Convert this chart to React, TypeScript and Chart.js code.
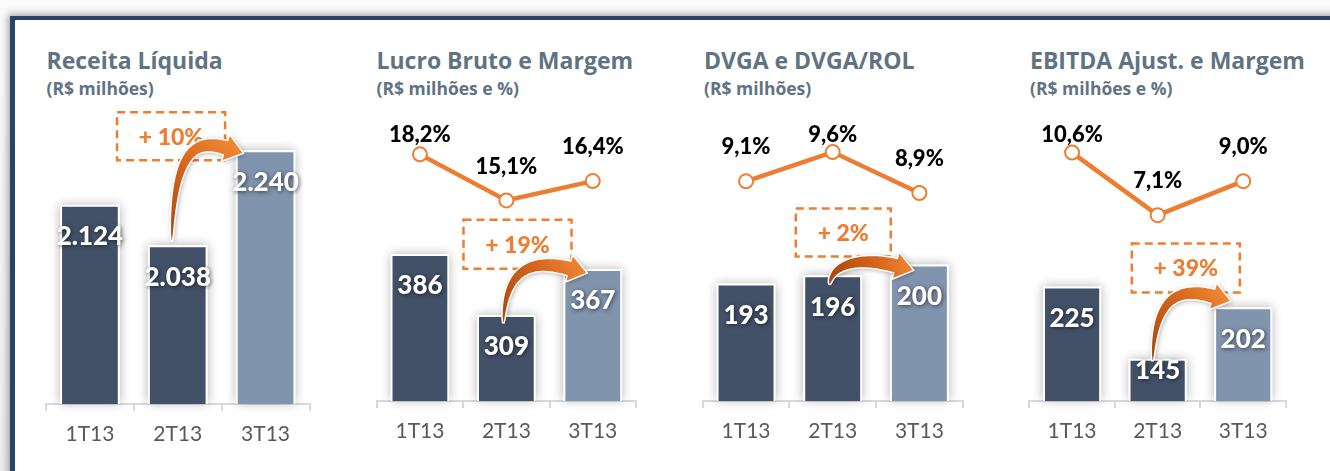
import React, { useEffect, useRef } from 'react';
import { Chart, registerables } from 'chart.js';

Chart.register(...registerables);

// ---------- data ----------
const categories = ['1T13', '2T13', '3T13'];
const receitaValues = [2124, 2038, 2240];
const lucroValues = [386, 309, 367];
const lucroMargin = [18.2, 15.1, 16.4];
const dvgaValues = [193, 196, 200];
const dvgaRatio = [9.1, 9.6, 8.9];
const ebitdaValues = [225, 145, 202];
const ebitdaMargin = [10.6, 7.1, 9.0];
const growthLabels = ['+ 10%', '+ 19%', '+ 2%', '+ 39%'];
const titles = ['Receita Líquida', 'Lucro Bruto e Margem', 'DVGA e DVGA/ROL', 'EBITDA Ajust. e Margem'];
const subtitles = ['(R$ milhões)', '(R$ milhões e %)', '(R$ milhões)', '(R$ milhões e %)'];

// ---------- styles ----------
const ORANGE = '#ED7D31';
const DARK_BAR = '#435168';
const LIGHT_BAR = '#8194ad';
const barColors = [DARK_BAR, DARK_BAR, LIGHT_BAR];
const TITLE_COLOR = '#5f7383';
const NUM_FONT = 'Lato, "Open Sans", sans-serif';
const TITLE_FONT = '"Open Sans", Lato, sans-serif';
const HEAVY = 900;

const AREA_TOP = 100;
const CANVAS_TOP = 95;
const CANVAS_BOTTOM = 470;
const AXIS_H = 50;

type Panel = {
  title: string;
  subtitle: string;
  titleLeft: number;
  bars: number[];
  line: number[] | null;
  yMin: number;
  yMax: number;
  y1Min: number;
  y1Max: number;
  left: number;
  right: number;
  bottom: number;
  growth: { text: string; cx: number; cy: number; w: number; h: number };
  arrow: { tailDx: number; tailDy: number; tipDx: number; tipDy: number };
};

const panels: Panel[] = [
  {
    title: titles[0], subtitle: subtitles[0], titleLeft: 46.5,
    bars: receitaValues, line: null,
    yMin: 1700, yMax: 2347, y1Min: 0, y1Max: 1,
    left: 46, right: 309.5, bottom: 404,
    growth: { text: growthLabels[0], cx: 0.924, cy: 2270, w: 108, h: 48 },
    arrow: { tailDx: -6, tailDy: -4, tipDx: 8, tipDy: 3 },
  },
  {
    title: titles[1], subtitle: subtitles[1], titleLeft: 376.5,
    bars: lucroValues, line: lucroMargin,
    yMin: 200, yMax: 576, y1Min: 1.6, y1Max: 21.59,
    left: 376.7, right: 636, bottom: 401,
    growth: { text: growthLabels[1], cx: 1.129, cy: 398.5, w: 108, h: 49 },
    arrow: { tailDx: -3, tailDy: 8, tipDx: 24, tipDy: 4 },
  },
  {
    title: titles[2], subtitle: subtitles[2], titleLeft: 704,
    bars: dvgaValues, line: dvgaRatio,
    yMin: 150, yMax: 258.7, y1Min: 5.339, y1Max: 10.423,
    left: 702.7, right: 962.7, bottom: 401,
    growth: { text: growthLabels[2], cx: 1.122, cy: 211.7, w: 95, h: 48 },
    arrow: { tailDx: -3, tailDy: 9, tipDx: 24, tipDy: 6 },
  },
  {
    title: titles[3], subtitle: subtitles[3], titleLeft: 1030,
    bars: ebitdaValues, line: ebitdaMargin,
    yMin: 98.4, yMax: 426.6, y1Min: -3.3, y1Max: 13.32,
    left: 1029.3, right: 1286, bottom: 401,
    growth: { text: growthLabels[3], cx: 1.329, cy: 245.3, w: 108, h: 49 },
    arrow: { tailDx: -5, tailDy: 2, tipDx: 17, tipDy: -6 },
  },
];

function fmtThousands(n: number): string {
  if (n >= 1000) {
    return `${Math.floor(n / 1000)}.${String(n % 1000).padStart(3, '0')}`;
  }
  return String(n);
}
function fmtPct(v: number): string {
  return v.toFixed(1).replace('.', ',') + '%';
}

function drawArrow(ctx: CanvasRenderingContext2D, tail: { x: number; y: number }, tip: { x: number; y: number }) {
  const dx = tip.x - tail.x;
  const c1 = { x: tail.x + 2, y: tip.y - 6 };
  const c2 = { x: tail.x + 0.35 * dx, y: tip.y - 14 };
  const headLen = 19;
  const headHalf = 14;
  const bodyHalf = 7.5;
  let ux = tip.x - c2.x;
  let uy = tip.y - c2.y;
  const ul = Math.hypot(ux, uy) || 1;
  ux /= ul; uy /= ul;
  const B = { x: tip.x - ux * headLen, y: tip.y - uy * headLen };
  const bez = (t: number) => {
    const m = 1 - t;
    return {
      x: m * m * m * tail.x + 3 * m * m * t * c1.x + 3 * m * t * t * c2.x + t * t * t * B.x,
      y: m * m * m * tail.y + 3 * m * m * t * c1.y + 3 * m * t * t * c2.y + t * t * t * B.y,
    };
  };
  const der = (t: number) => {
    const m = 1 - t;
    return {
      x: 3 * m * m * (c1.x - tail.x) + 6 * m * t * (c2.x - c1.x) + 3 * t * t * (B.x - c2.x),
      y: 3 * m * m * (c1.y - tail.y) + 6 * m * t * (c2.y - c1.y) + 3 * t * t * (B.y - c2.y),
    };
  };
  const N = 40;
  const leftPts: { x: number; y: number }[] = [];
  const rightPts: { x: number; y: number }[] = [];
  for (let i = 0; i <= N; i++) {
    const t = i / N;
    const p = bez(t);
    const d = der(t);
    const dl = Math.hypot(d.x, d.y) || 1;
    const nx = -d.y / dl;
    const ny = d.x / dl;
    const w = 0.8 + (bodyHalf - 0.8) * Math.pow(t, 0.6);
    leftPts.push({ x: p.x + nx * w, y: p.y + ny * w });
    rightPts.push({ x: p.x - nx * w, y: p.y - ny * w });
  }
  const nx = -uy;
  const ny = ux;
  ctx.save();
  ctx.beginPath();
  ctx.moveTo(leftPts[0].x, leftPts[0].y);
  for (const p of leftPts) ctx.lineTo(p.x, p.y);
  ctx.lineTo(B.x + nx * headHalf, B.y + ny * headHalf);
  ctx.lineTo(tip.x, tip.y);
  ctx.lineTo(B.x - nx * headHalf, B.y - ny * headHalf);
  for (let i = rightPts.length - 1; i >= 0; i--) ctx.lineTo(rightPts[i].x, rightPts[i].y);
  ctx.closePath();
  const g = ctx.createLinearGradient(tail.x, tail.y, tip.x, tip.y);
  g.addColorStop(0, '#a9480f');
  g.addColorStop(0.55, '#d2641b');
  g.addColorStop(1, '#f08634');
  ctx.shadowColor = 'rgba(0,0,0,0.35)';
  ctx.shadowBlur = 5;
  ctx.shadowOffsetX = 1;
  ctx.shadowOffsetY = 1;
  ctx.fillStyle = g;
  ctx.fill();
  ctx.shadowColor = 'transparent';
  ctx.strokeStyle = '#ffffff';
  ctx.lineWidth = 1.5;
  ctx.lineJoin = 'round';
  ctx.stroke();
  ctx.restore();
}

function PanelChart({ p }: { p: Panel }) {
  const ref = useRef<HTMLCanvasElement>(null);
  const canvasLeft = Math.floor(p.left - 16);
  const canvasWidth = Math.ceil(p.right + 24 - canvasLeft);
  const canvasHeight = CANVAS_BOTTOM - CANVAS_TOP;

  useEffect(() => {
    if (!ref.current) return;
    const decor = {
      id: 'decor',
      beforeDatasetsDraw(chart: any) {
        const ctx: CanvasRenderingContext2D = chart.ctx;
        const area = chart.chartArea;
        const meta = chart.getDatasetMeta(0);
        ctx.save();
        meta.data.forEach((el: any) => {
          const { x, y, width } = el.getProps(['x', 'y', 'width'], true);
          ctx.shadowColor = 'rgba(0,0,0,0.3)';
          ctx.shadowBlur = 10;
          ctx.fillStyle = '#ffffff';
          ctx.fillRect(x - width / 2, y, width, area.bottom - y - 1);
        });
        ctx.restore();
      },
      afterDatasetsDraw(chart: any) {
        const ctx: CanvasRenderingContext2D = chart.ctx;
        const xs = chart.scales.x;
        const ys = chart.scales.y;
        const area = chart.chartArea;
        const barMeta = chart.getDatasetMeta(0);

        // growth box
        const gcx = xs.getPixelForValue(p.growth.cx);
        const gcy = ys.getPixelForValue(p.growth.cy);
        ctx.save();
        ctx.strokeStyle = ORANGE;
        ctx.lineWidth = 2.5;
        ctx.setLineDash([8, 5]);
        ctx.strokeRect(gcx - p.growth.w / 2, gcy - p.growth.h / 2, p.growth.w, p.growth.h);
        ctx.setLineDash([]);
        ctx.fillStyle = ORANGE;
        ctx.font = `${HEAVY} 23px ${NUM_FONT}`;
        ctx.textAlign = 'center';
        ctx.textBaseline = 'middle';
        ctx.fillText(p.growth.text, gcx, gcy + 1);
        ctx.restore();

        // arrow
        const b1 = barMeta.data[1].getProps(['x', 'y', 'width'], true);
        const b2 = barMeta.data[2].getProps(['x', 'y', 'width'], true);
        drawArrow(
          ctx,
          { x: b1.x + p.arrow.tailDx, y: b1.y + p.arrow.tailDy },
          { x: b2.x - b2.width / 2 + p.arrow.tipDx, y: b2.y + p.arrow.tipDy },
        );

        // bar value labels
        ctx.save();
        ctx.font = `${HEAVY} 26px ${NUM_FONT}`;
        ctx.textAlign = 'center';
        ctx.textBaseline = 'middle';
        ctx.fillStyle = '#ffffff';
        ctx.shadowColor = 'rgba(0,0,0,0.6)';
        ctx.shadowBlur = 4;
        ctx.shadowOffsetX = 1;
        ctx.shadowOffsetY = 1;
        barMeta.data.forEach((el: any, i: number) => {
          const { x, y } = el.getProps(['x', 'y'], true);
          const ly = Math.min(y + 32, area.bottom - 30);
          ctx.fillText(fmtThousands(p.bars[i]), x, ly);
        });
        ctx.restore();

        // line labels
        if (p.line) {
          const lineMeta = chart.getDatasetMeta(1);
          ctx.save();
          ctx.font = `${HEAVY} 22px ${NUM_FONT}`;
          ctx.textAlign = 'center';
          ctx.textBaseline = 'middle';
          ctx.fillStyle = '#000000';
          lineMeta.data.forEach((pt: any, i: number) => {
            const { x, y } = pt.getProps(['x', 'y'], true);
            const ly = Math.max(y - 34, area.top + 31);
            ctx.fillText(fmtPct(p.line![i]), x, ly);
          });
          ctx.restore();
        }
      },
    };

    const datasets: any[] = [
      {
        type: 'bar',
        data: p.bars,
        backgroundColor: barColors,
        borderColor: '#ffffff',
        borderWidth: 2,
        borderSkipped: 'start',
        barPercentage: 0.68,
        categoryPercentage: 1,
        yAxisID: 'y',
        order: 1,
      },
    ];
    if (p.line) {
      datasets.push({
        type: 'line',
        data: p.line,
        yAxisID: 'y1',
        borderColor: ORANGE,
        borderWidth: 4.5,
        pointRadius: 7,
        pointBorderWidth: 2,
        pointBackgroundColor: '#ffffff',
        pointBorderColor: ORANGE,
        tension: 0,
        order: 0,
        clip: false,
      });
    }

    const chart = new Chart(ref.current, {
      type: 'bar',
      data: { labels: categories, datasets },
      options: {
        responsive: false,
        animation: false,
        events: [],
        layout: {
          padding: {
            left: p.left - canvasLeft,
            right: canvasLeft + canvasWidth - p.right,
            top: AREA_TOP - CANVAS_TOP,
            bottom: CANVAS_BOTTOM - AXIS_H - p.bottom,
          },
        },
        plugins: {
          legend: { display: false },
          tooltip: { enabled: false },
        },
        scales: {
          x: {
            offset: true,
            grid: {
              display: true,
              offset: true,
              drawOnChartArea: false,
              drawTicks: true,
              tickLength: 7,
              color: '#d9d9d9',
              lineWidth: 2,
            },
            border: { display: true, color: '#d9d9d9', width: 2 },
            ticks: {
              color: '#595959',
              font: { family: NUM_FONT, size: 21 },
              padding: 11,
              maxRotation: 0,
            },
            afterFit: (s: any) => {
              s.height = AXIS_H;
            },
          },
          y: { display: false, min: p.yMin, max: p.yMax },
          y1: { display: false, min: p.y1Min, max: p.y1Max },
        },
      } as any,
      plugins: [decor],
    });
    return () => chart.destroy();
  }, []);

  return (
    <>
      <div
        style={{
          position: 'absolute',
          left: p.titleLeft,
          top: 43.5,
          font: `bold 23px ${TITLE_FONT}`,
          lineHeight: 'normal',
          color: TITLE_COLOR,
          whiteSpace: 'nowrap',
        }}
      >
        {p.title}
      </div>
      <div
        style={{
          position: 'absolute',
          left: p.titleLeft,
          top: 75.5,
          font: `bold 17.5px ${TITLE_FONT}`,
          lineHeight: 'normal',
          color: TITLE_COLOR,
          whiteSpace: 'nowrap',
        }}
      >
        {p.subtitle}
      </div>
      <canvas
        ref={ref}
        width={canvasWidth}
        height={canvasHeight}
        style={{ position: 'absolute', left: canvasLeft, top: CANVAS_TOP, width: canvasWidth, height: canvasHeight }}
      />
    </>
  );
}

export default function App() {
  return (
    <div
      style={{
        position: 'absolute',
        left: 0,
        top: 0,
        width: 1330,
        height: 471,
        overflow: 'hidden',
        background: 'linear-gradient(#fbfbfb, #ececec)',
      }}
    >
      <div
        style={{
          position: 'absolute',
          left: 10,
          top: 16,
          width: 1340,
          height: 470,
          background: '#ffffff',
          borderTop: '4.5px solid #2a4466',
          borderLeft: '5px solid #2a4466',
          boxShadow: '-2px -2px 7px rgba(0,0,0,0.35)',
        }}
      />
      {panels.map((p, i) => (
        <PanelChart key={i} p={p} />
      ))}
    </div>
  );
}
